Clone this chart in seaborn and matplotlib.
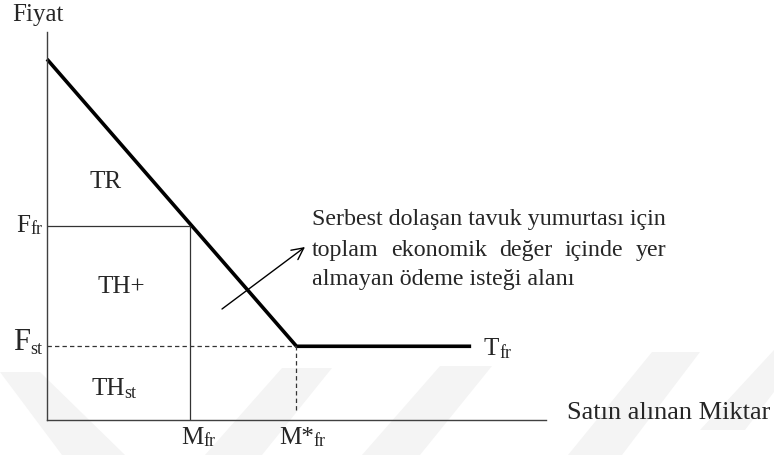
import matplotlib
matplotlib.use("Agg")
import matplotlib.pyplot as plt
from matplotlib.patches import Polygon
import seaborn as sns

# ---- data (model units) ----
demand_q = [0.0, 5.0, 8.5]      # kinked demand curve knots (quantity)
demand_p = [9.3, 1.9, 1.9]      # kinked demand curve knots (price)
F_fr = 5.0                      # free-range price
F_st = 1.9                      # standard price
M_fr = 2.87                     # quantity at F_fr
M_star = 5.0                    # M*_fr
x_max, y_max = 10.0, 10.0

ann_line1 = "Serbest dolaşan tavuk yumurtası için"
ann_line2 = ["toplam", "ekonomik", "değer", "içinde", "yer"]
ann_line3 = "almayan ödeme isteği alanı"

sns.set_theme(style="white")
plt.rcParams["font.family"] = ["Liberation Serif", "DejaVu Serif"]

W, H = 774, 455
fig = plt.figure(figsize=(W / 100, H / 100), dpi=100, facecolor="white")

# faint background watermark (decorative), pixel coordinates
bg = fig.add_axes([0, 0, 1, 1], zorder=-1)
bg.set_xlim(0, W)
bg.set_ylim(H, 0)
bg.axis("off")
wm_shapes = [
    [(0, 372), (40, 372), (125, 455), (62, 455)],
    [(205, 455), (262, 455), (332, 368), (282, 368)],
    [(362, 455), (420, 455), (492, 366), (440, 366)],
    [(568, 455), (622, 455), (700, 352), (652, 352)],
    [(700, 430), (745, 430), (774, 392), (774, 350)],
]
for shp in wm_shapes:
    bg.add_patch(Polygon(shp, closed=True, facecolor="#f4f4f4", edgecolor="none"))

# main axes: origin at pixel (47, 420), x to 546, y up to 32
ax = fig.add_axes([47 / W, (H - 420) / H, (546 - 47) / W, (420 - 32) / H])
ax.set_xlim(0, x_max)
ax.set_ylim(0, y_max)
ax.set_xticks([])
ax.set_yticks([])
ax.patch.set_alpha(0)
for s in ["top", "right"]:
    ax.spines[s].set_visible(False)
for s in ["left", "bottom"]:
    ax.spines[s].set_color("#404040")
    ax.spines[s].set_linewidth(1.0)

sns.lineplot(x=demand_q, y=demand_p, ax=ax, color="black", lw=2.6,
             sort=False, estimator=None, legend=False)
for ln in ax.lines:
    ln.set_clip_on(False)
    ln.set_solid_capstyle("butt")

thin = dict(color="#333333", lw=0.9)
ax.hlines(F_fr, 0, M_fr, **thin)
ax.vlines(M_fr, 0, F_fr, **thin)
ax.hlines(F_st, 0, M_star, linestyles=(0, (3.5, 2.5)), **thin)
ax.vlines(M_star, 0.25, F_st, linestyles=(0, (3.5, 2.5)), **thin)

# overlay in pixel coordinates for text
ov = fig.add_axes([0, 0, 1, 1])
ov.set_xlim(0, W)
ov.set_ylim(H, 0)
ov.axis("off")
ov.patch.set_alpha(0)

FS = 18
SUB = 13


def sub_label(x, y, main, sub, size=FS, subsize=SUB, dy=1.8):
    t = ov.text(x, y, main, fontsize=size, ha="left", va="baseline")
    ov.annotate(sub, xy=(1, 0), xycoords=t, xytext=(0, dy),
                textcoords="offset points", fontsize=subsize,
                ha="left", va="baseline")
    return t


ov.text(12, 21, "Fiyat", fontsize=FS, ha="left", va="baseline")
ov.text(90, 188, "TR", fontsize=FS, ha="left", va="baseline")
ov.text(97, 293, "TH+", fontsize=FS, ha="left", va="baseline")
sub_label(16, 232, "F", "fr")
sub_label(13, 350, "F", "st", size=22, subsize=13, dy=2.3)
sub_label(91, 395, "TH", "st")
sub_label(181, 444, "M", "fr")
sub_label(279, 444, "M*", "fr")
sub_label(484, 355, "T", "fr")
ov.text(567, 419, "Satın alınan Miktar", fontsize=19, ha="left", va="baseline")

# annotation text (justified middle line)
AFS = 17.3
x0 = 312
t1 = ov.text(x0, 225, ann_line1, fontsize=AFS, ha="left", va="baseline")
fig.canvas.draw()
r = fig.canvas.get_renderer()
line_w = t1.get_window_extent(renderer=r).width
words = [ov.text(0, 256, w, fontsize=AFS, ha="left", va="baseline") for w in ann_line2]
widths = [w.get_window_extent(renderer=r).width for w in words]
gap = (line_w - sum(widths)) / (len(words) - 1)
xc = x0
for w, wd in zip(words, widths):
    w.set_x(xc)
    xc += wd + gap
ov.text(x0, 285, ann_line3, fontsize=AFS, ha="left", va="baseline")

ov.annotate("", xy=(305, 247), xytext=(222, 309),
            arrowprops=dict(arrowstyle="->,head_length=0.7,head_width=0.35",
                            color="black", lw=1.0, shrinkA=0, shrinkB=0))

fig.savefig("out.png", dpi=100, facecolor="white")
